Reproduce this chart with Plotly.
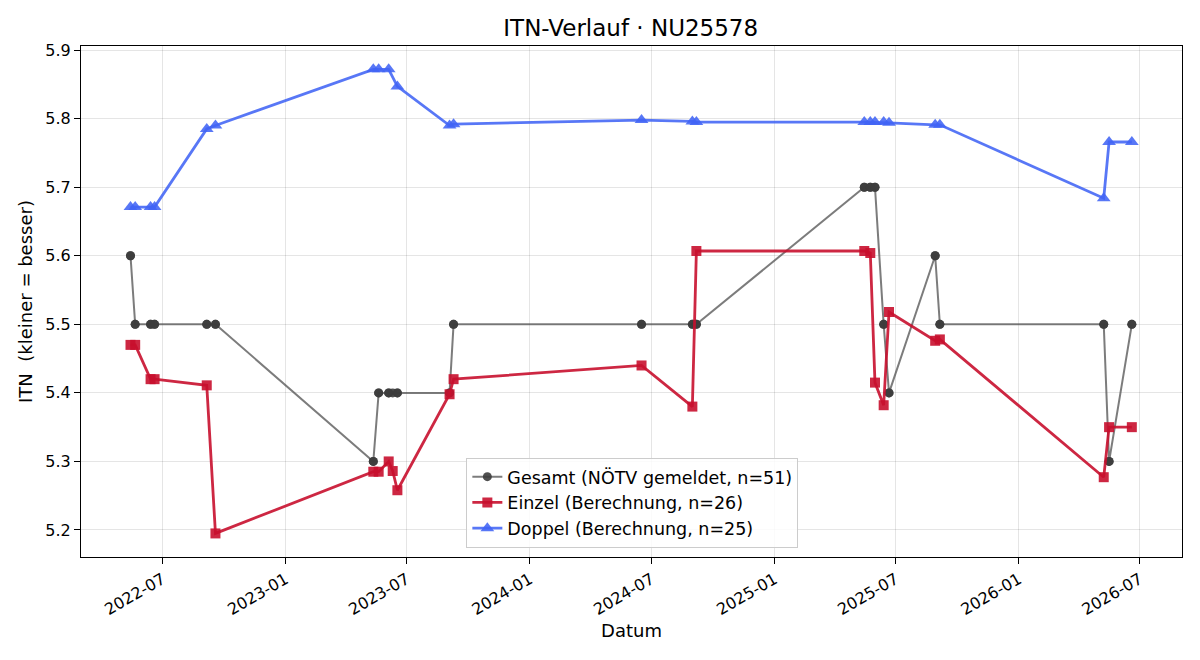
import plotly.graph_objects as go

# ---------------- data ----------------
einzel_dates = [
    "2022-05-14", "2022-05-21", "2022-06-13", "2022-06-19", "2022-09-05", "2022-09-18",
    "2023-05-12", "2023-05-20", "2023-06-04", "2023-06-10", "2023-06-17",
    "2023-09-03", "2023-09-09", "2024-06-16", "2024-08-31", "2024-09-06",
    "2025-05-15", "2025-05-24", "2025-05-31", "2025-06-13", "2025-06-21",
    "2025-08-29", "2025-09-05", "2026-05-08", "2026-05-16", "2026-06-19",
]
einzel_vals = [
    5.47, 5.47, 5.42, 5.42, 5.411, 5.195,
    5.285, 5.285, 5.30, 5.286, 5.258,
    5.398, 5.42, 5.44, 5.38, 5.607,
    5.607, 5.604, 5.415, 5.382, 5.518,
    5.476, 5.478, 5.277, 5.35, 5.35,
]

doppel_dates = [
    "2022-05-14", "2022-05-21", "2022-06-13", "2022-06-19", "2022-09-05", "2022-09-18",
    "2023-05-12", "2023-05-20", "2023-06-04", "2023-06-17",
    "2023-09-03", "2023-09-09", "2024-06-16", "2024-08-31", "2024-09-06",
    "2025-05-15", "2025-05-24", "2025-05-31", "2025-06-13", "2025-06-21",
    "2025-08-29", "2025-09-05", "2026-05-08", "2026-05-16", "2026-06-19",
]
doppel_vals = [
    5.671, 5.671, 5.671, 5.671, 5.785, 5.79,
    5.872, 5.872, 5.872, 5.847,
    5.79, 5.792, 5.798, 5.796, 5.795,
    5.795, 5.795, 5.795, 5.795, 5.794,
    5.791, 5.791, 5.684, 5.766, 5.766,
]

gesamt_dates = [
    "2022-05-14", "2022-05-14", "2022-05-21", "2022-05-21", "2022-06-13", "2022-06-13",
    "2022-06-19", "2022-06-19", "2022-09-05", "2022-09-05", "2022-09-18", "2022-09-18",
    "2023-05-12", "2023-05-12", "2023-05-20", "2023-05-20", "2023-06-04", "2023-06-04",
    "2023-06-10", "2023-06-17", "2023-06-17", "2023-09-03", "2023-09-03",
    "2023-09-09", "2023-09-09", "2024-06-16", "2024-06-16", "2024-08-31", "2024-08-31",
    "2024-09-06", "2024-09-06", "2025-05-15", "2025-05-15", "2025-05-24", "2025-05-24",
    "2025-05-31", "2025-05-31", "2025-06-13", "2025-06-13", "2025-06-21", "2025-06-21",
    "2025-08-29", "2025-08-29", "2025-09-05", "2025-09-05", "2026-05-08", "2026-05-08",
    "2026-05-16", "2026-05-16", "2026-06-19", "2026-06-19",
]
gesamt_vals = [
    5.6, 5.6, 5.5, 5.5, 5.5, 5.5,
    5.5, 5.5, 5.5, 5.5, 5.5, 5.5,
    5.3, 5.3, 5.4, 5.4, 5.4, 5.4,
    5.4, 5.4, 5.4, 5.4, 5.4,
    5.5, 5.5, 5.5, 5.5, 5.5, 5.5,
    5.5, 5.5, 5.7, 5.7, 5.7, 5.7,
    5.7, 5.7, 5.5, 5.5, 5.4, 5.4,
    5.6, 5.6, 5.5, 5.5, 5.5, 5.5,
    5.3, 5.3, 5.5, 5.5,
]

x_tick_vals = ["2022-07-01", "2023-01-01", "2023-07-01", "2024-01-01", "2024-07-01",
               "2025-01-01", "2025-07-01", "2026-01-01", "2026-07-01"]
x_tick_text = ["2022-07", "2023-01", "2023-07", "2024-01", "2024-07",
               "2025-01", "2025-07", "2026-01", "2026-07"]
y_tick_vals = [5.2, 5.3, 5.4, 5.5, 5.6, 5.7, 5.8, 5.9]

# ---------------- figure ----------------
fig = go.Figure()
fig.add_trace(go.Scatter(
    x=gesamt_dates, y=gesamt_vals, mode="lines+markers",
    name="Gesamt (NÖTV gemeldet, n=51)",
    line=dict(color="rgba(80,80,80,0.75)", width=2.0),
    marker=dict(symbol="circle", size=9, color="rgba(60,60,60,0.9)", line=dict(width=0)),
))
fig.add_trace(go.Scatter(
    x=einzel_dates, y=einzel_vals, mode="lines+markers",
    name="Einzel (Berechnung, n=26)",
    line=dict(color="rgba(200,16,46,0.9)", width=2.8),
    marker=dict(symbol="square", size=10, color="rgba(200,16,46,0.9)", line=dict(width=0)),
))
fig.add_trace(go.Scatter(
    x=doppel_dates, y=doppel_vals, mode="lines+markers",
    name="Doppel (Berechnung, n=25)",
    line=dict(color="rgba(65,100,245,0.88)", width=2.8),
    marker=dict(symbol="triangle-up", size=12, color="rgba(65,100,245,0.88)", line=dict(width=0)),
))

axis_common = dict(
    showline=True, mirror=True, linecolor="black", linewidth=1,
    ticks="outside", ticklen=6, tickcolor="black",
    showgrid=True, gridcolor="rgba(0,0,0,0.10)", gridwidth=1,
    zeroline=False,
    tickfont=dict(size=16, color="black"),
)

fig.update_layout(
    width=1200, height=660,
    paper_bgcolor="white", plot_bgcolor="white",
    font=dict(family="DejaVu Sans", size=16, color="black"),
    title=dict(text="ITN-Verlauf · NU25578", x=0.5256, xanchor="center",
               y=0.957, yanchor="middle", font=dict(size=23)),
    margin=dict(l=81, r=18, t=46, b=103),
    xaxis=dict(
        **axis_common,
        type="date",
        range=["2022-03-01", "2026-09-02"],
        tickvals=x_tick_vals, ticktext=x_tick_text, tickangle=-30,
        title=dict(text="Datum", font=dict(size=18), standoff=6),
    ),
    yaxis=dict(
        **axis_common,
        range=[5.1606, 5.906],
        tickvals=y_tick_vals, tickformat=".1f",
        title=dict(text="ITN  (kleiner = besser)", font=dict(size=18), standoff=8),
    ),
    legend=dict(
        x=0.35, y=0.018, xanchor="left", yanchor="bottom",
        bgcolor="rgba(255,255,255,0.85)", bordercolor="#cccccc", borderwidth=1,
        font=dict(size=17.5),
    ),
    showlegend=True,
)

fig.write_html("out.html")
